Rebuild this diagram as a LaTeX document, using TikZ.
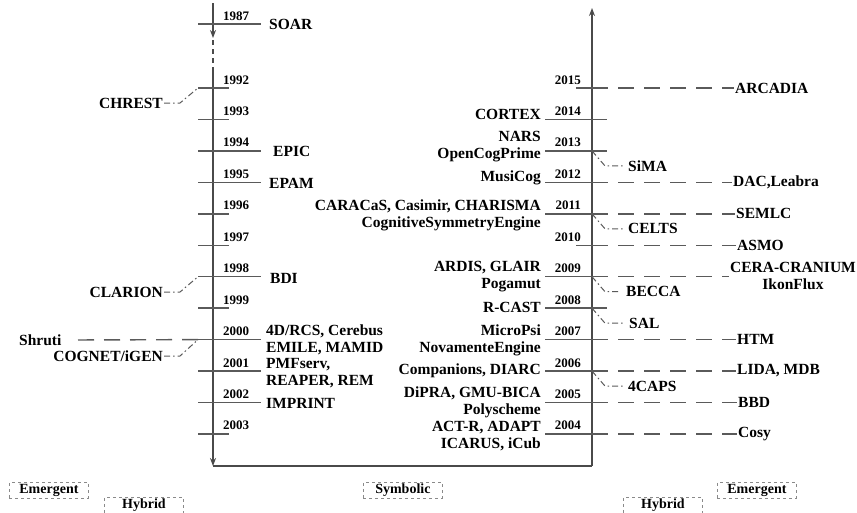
\documentclass[tikz,border=0pt]{standalone}
\usepackage{fontspec}
\setmainfont{Liberation Serif}
\usetikzlibrary{arrows.meta}
\definecolor{axisgray}{HTML}{4A4A4A}
\definecolor{linegray}{HTML}{5A5A5A}
\definecolor{boxgray}{HTML}{8A8A8A}
\begin{document}
\begin{tikzpicture}[x=1pt,y=-1pt,
  axis/.style={draw=axisgray, line width=1.7pt},
  tickline/.style={draw=linegray, line width=1.4pt},
  year/.style={font=\fontsize{13}{14}\selectfont\bfseries, inner sep=0pt},
  lab/.style={font=\fontsize{15.5}{17}\selectfont\bfseries, inner sep=1pt},
  dline/.style={draw=linegray, line width=1.4pt, dash pattern=on 16pt off 10pt},
  ddot/.style={draw=linegray, line width=1pt, dash pattern=on 6pt off 3pt on 1.5pt off 3pt},
  legend/.style={draw=boxgray, dashed, line width=0.8pt, minimum width=79pt, minimum height=15.5pt, text height=9.5pt, text depth=3pt, inner sep=0pt, anchor=north west, font=\fontsize{14}{15}\selectfont\bfseries},
  arr/.style={-{Stealth[length=8pt,width=6pt]}}
]
\useasboundingbox (0,0) rectangle (857,512);

% ---------- axes ----------
\coordinate (ltop) at (213,3);
\coordinate (larr) at (213,38);
\coordinate (ldash1) at (213,40);
\coordinate (ldash2) at (213,70);
\coordinate (lbot) at (213,466);
\coordinate (rbot) at (592,466);
\coordinate (rtop) at (592,8);
\draw[axis,arr] (ltop) -- (larr);
\draw[axis,dash pattern=on 5pt off 4pt] (ldash1) -- (ldash2);
\draw[axis,arr] (ldash2) -- (lbot);
\draw[axis] (lbot) -- (rbot);
\draw[axis,arr] (rbot) -- (rtop);

% ---------- left timeline ticks ----------
\coordinate (t1987w) at (198,24);
\coordinate (t1987e) at (261,24);
\draw[tickline] (t1987w) -- (t1987e);
\node[year, anchor=base west] (y1987) at (223,20) {1987};
\foreach \yr/\yy/\xe in {1992/88/229, 1993/119.45/229, 1994/150.9/261, 1995/182.35/261, 1996/213.8/229, 1997/245.25/229, 1998/276.7/261, 1999/308.15/229, 2000/339.6/261, 2001/371.05/261, 2002/402.5/261, 2003/433.95/229}{
  \coordinate (t\yr w) at (198,\yy);
  \coordinate (t\yr e) at (\xe,\yy);
  \draw[tickline] (t\yr w) -- (t\yr e);
  \node[year, anchor=base west] (y\yr) at (223,\yy-4) {\yr};
}

% labels right of left timeline
\node[lab, anchor=west] (soar) at (268,24) {SOAR};
\node[lab, anchor=west] (epic) at (272,151) {EPIC};
\node[lab, anchor=west] (epam) at (268,183) {EPAM};
\node[lab, anchor=west] (bdi) at (269,278) {BDI};
\node[lab, anchor=west, align=left] (g2000) at (265,340) {4D/RCS, Cerebus\\EMILE, MAMID};
\node[lab, anchor=west, align=left] (g2001) at (265,373.5) {PMFserv,\\REAPER, REM};
\node[lab, anchor=west] (imprint) at (265,403) {IMPRINT};

% labels left of left timeline
\node[lab, anchor=east] (chrest) at (164,103) {CHREST};
\node[lab, anchor=east] (clarion) at (164,292) {CLARION};
\node[lab, anchor=east] (cognet) at (164,356) {COGNET/iGEN};
\node[lab, anchor=west] (shruti) at (18,340) {Shruti};
\draw[ddot] (chrest.east) -- ++(16,0) -- (t1992w);
\draw[ddot] (clarion.east) -- ++(16,0) -- (t1998w);
\draw[ddot] (cognet.east) -- ++(16,0) -- (t2000w);
\draw[dline] (t2000w) -- ([xshift=6pt]shruti.east);

% ---------- right timeline ticks ----------
\foreach \yr/\yy/\xw in {2015/88/576, 2014/119.45/545, 2013/150.9/545, 2012/182.35/545, 2011/213.8/545, 2010/245.25/576, 2009/276.7/545, 2008/308.15/545, 2007/339.6/545, 2006/371.05/545, 2005/402.5/545, 2004/433.95/545}{
  \coordinate (r\yr w) at (\xw,\yy);
  \coordinate (r\yr c) at (592,\yy);
  \coordinate (r\yr e) at (607,\yy);
  \draw[tickline] (r\yr w) -- (r\yr e);
  \node[year, anchor=base east] (z\yr) at (581,\yy-4) {\yr};
}

% labels left of right timeline
\node[lab, anchor=east] (cortex) at (542,114) {CORTEX};
\node[lab, anchor=east, align=right] (nars) at (542,147) {NARS\\OpenCogPrime};
\node[lab, anchor=east] (musicog) at (542,178) {MusiCog};
\node[lab, anchor=east, align=right] (caracas) at (542,215) {CARACaS, Casimir, CHARISMA\\CognitiveSymmetryEngine};
\node[lab, anchor=east, align=right] (ardis) at (542,277) {ARDIS, GLAIR\\Pogamut};
\node[lab, anchor=east] (rcast) at (542,307) {R-CAST};
\node[lab, anchor=east, align=right] (micropsi) at (542,340.5) {MicroPsi\\NovamenteEngine};
\node[lab, anchor=east] (companions) at (542,371) {Companions, DIARC};
\node[lab, anchor=east, align=right] (dipra) at (542,402.5) {DiPRA, GMU-BICA\\Polyscheme};
\node[lab, anchor=east, align=right] (actr) at (542,436) {ACT-R, ADAPT\\ICARUS, iCub};

% labels right of right timeline (dashed)
\node[lab, anchor=west] (arcadia) at (734,88) {ARCADIA};
\node[lab, anchor=west] (dac) at (732,182.35) {DAC,Leabra};
\node[lab, anchor=west] (semlc) at (735,213.8) {SEMLC};
\node[lab, anchor=west] (asmo) at (736,245.25) {ASMO};
\node[lab, align=center] (cera) at (793,275.5) {CERA-CRANIUM\\IkonFlux};
\node[lab, anchor=west] (htm) at (736,339.6) {HTM};
\node[lab, anchor=west] (lida) at (736,371.05) {LIDA, MDB};
\node[lab, anchor=west] (bbd) at (737,402.5) {BBD};
\node[lab, anchor=west] (cosy) at (737,433.95) {Cosy};
\draw[dline] (r2015c) -- (arcadia.west);
\draw[dline] (r2012c) -- (dac.west);
\draw[dline] (r2011c) -- (semlc.west);
\draw[dline] (r2010c) -- (asmo.west);
\draw[dline] (r2009c) -- (cera.west |- r2009c);
\draw[dline] (r2007c) -- (htm.west);
\draw[dline] (r2006c) -- (lida.west);
\draw[dline] (r2005c) -- (bbd.west);
\draw[dline] (r2004c) -- (cosy.west);

% dash-dot labels right of right timeline
\node[lab, anchor=west] (sima) at (627,165.9) {SiMA};
\node[lab, anchor=west] (celts) at (627,228.8) {CELTS};
\node[lab, anchor=west] (becca) at (625,291.7) {BECCA};
\node[lab, anchor=west] (sal) at (628,323.15) {SAL};
\node[lab, anchor=west] (fourcaps) at (627,386.05) {4CAPS};
\draw[ddot,shorten >=4pt] (r2013c) -- ++(13,15) -- (sima.west);
\draw[ddot,shorten >=4pt] (r2011c) -- ++(13,15) -- (celts.west);
\draw[ddot,shorten >=4pt] (r2009c) -- ++(13,15) -- (becca.west);
\draw[ddot,shorten >=4pt] (r2008c) -- ++(13,15) -- (sal.west);
\draw[ddot,shorten >=4pt] (r2006c) -- ++(13,15) -- (fourcaps.west);

% ---------- legend ----------
\node[legend] (emergL) at (9,482) {Emergent};
\node[legend] (hybridL) at (104,497) {Hybrid};
\node[legend] (symb) at (363,482) {Symbolic};
\node[legend] (hybridR) at (623,497) {Hybrid};
\node[legend] (emergR) at (717,482) {Emergent};
\end{tikzpicture}
\end{document}
